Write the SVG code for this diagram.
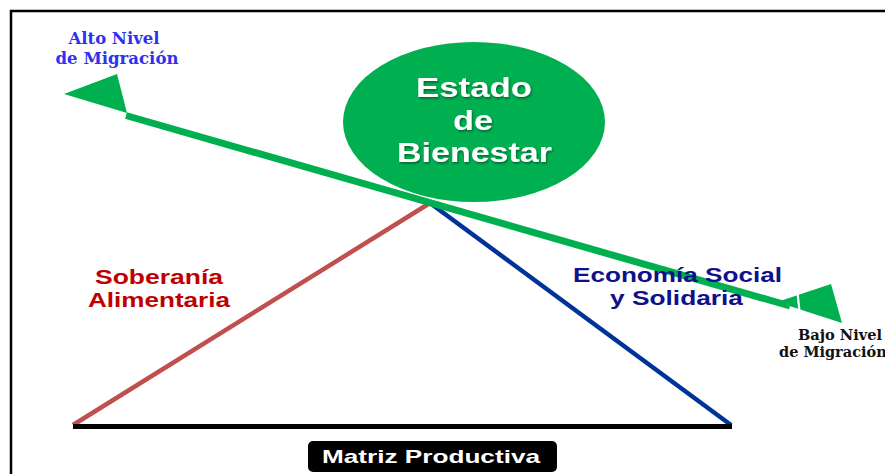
<svg xmlns="http://www.w3.org/2000/svg" width="885" height="474" viewBox="0 0 885 474">
<style>
.sans{font-family:"Liberation Sans",Arial,sans-serif;font-weight:bold}
.serif{font-family:"DejaVu Serif","Liberation Serif",serif;font-weight:bold}
.mid{text-anchor:middle}
</style>
<defs>
<filter id="sh" x="-10%" y="-10%" width="120%" height="130%">
<feDropShadow dx="1" dy="1.5" stdDeviation="0.8" flood-color="#000" flood-opacity="0.45"/>
</filter>
</defs>
<rect x="0" y="0" width="885" height="474" fill="#fff"/>
<rect id="frame" x="11" y="11" width="900" height="500" fill="none" stroke="#000" stroke-width="2.5"/>

<g id="connectors">
<line x1="73" y1="425" x2="430" y2="203" stroke="#c0504d" stroke-width="4.5"/>
<line x1="430" y1="203" x2="731" y2="425" stroke="#003399" stroke-width="4.5"/>
<line x1="73" y1="426.5" x2="732" y2="426.5" stroke="#000" stroke-width="5"/>
</g>

<g id="bienestar">
<ellipse cx="474" cy="122" rx="131" ry="80" fill="#00b050"/>
</g>

<g id="migration-arrow">
<line x1="126" y1="115.5" x2="790" y2="306" stroke="#00b050" stroke-width="7"/>
<polygon points="64,94 117,74 127,113" fill="#00b050"/>
<polygon points="777,302 831,284 842,323" fill="#00b050"/>
<line x1="797.5" y1="293" x2="799.5" y2="311" stroke="#fff" stroke-width="2.2"/>
</g>

<g id="bienestar-label" filter="url(#sh)" fill="#fff">
<text class="sans mid" x="474" y="97" font-size="28" textLength="116" lengthAdjust="spacingAndGlyphs">Estado</text>
<text class="sans mid" x="473" y="130" font-size="28" textLength="40" lengthAdjust="spacingAndGlyphs">de</text>
<text class="sans mid" x="474.5" y="162" font-size="28" textLength="155" lengthAdjust="spacingAndGlyphs">Bienestar</text>
</g>

<g id="soberania">
<text class="sans mid" x="159" y="284" font-size="20" fill="#c00000" textLength="128" lengthAdjust="spacingAndGlyphs">Soberanía</text>
<text class="sans mid" x="159" y="307" font-size="20" fill="#c00000" textLength="142" lengthAdjust="spacingAndGlyphs">Alimentaria</text>
</g>

<g id="economia">
<text class="sans mid" x="677.5" y="282" font-size="20" fill="#10108a" textLength="209" lengthAdjust="spacingAndGlyphs">Economía Social</text>
<text class="sans mid" x="676.5" y="305" font-size="20" fill="#10108a" textLength="133" lengthAdjust="spacingAndGlyphs">y Solidaria</text>
</g>

<g id="alto">
<text class="serif mid" x="114" y="44" font-size="16" fill="#3030f0" textLength="91" lengthAdjust="spacingAndGlyphs">Alto Nivel</text>
<text class="serif mid" x="117" y="64" font-size="16" fill="#3030f0" textLength="123" lengthAdjust="spacingAndGlyphs">de Migración</text>
</g>

<g id="bajo">
<text class="serif mid" x="840" y="340" font-size="14" fill="#111" textLength="84" lengthAdjust="spacingAndGlyphs">Bajo Nivel</text>
<text class="serif" x="779" y="357" font-size="14.5" fill="#111">de Migración</text>
</g>

<g id="matriz">
<rect x="308" y="441" width="249" height="31" rx="5" fill="#000"/>
<text class="sans mid" x="431" y="463" font-size="19" fill="#fff" textLength="218" lengthAdjust="spacingAndGlyphs">Matriz Productiva</text>
</g>
</svg>
